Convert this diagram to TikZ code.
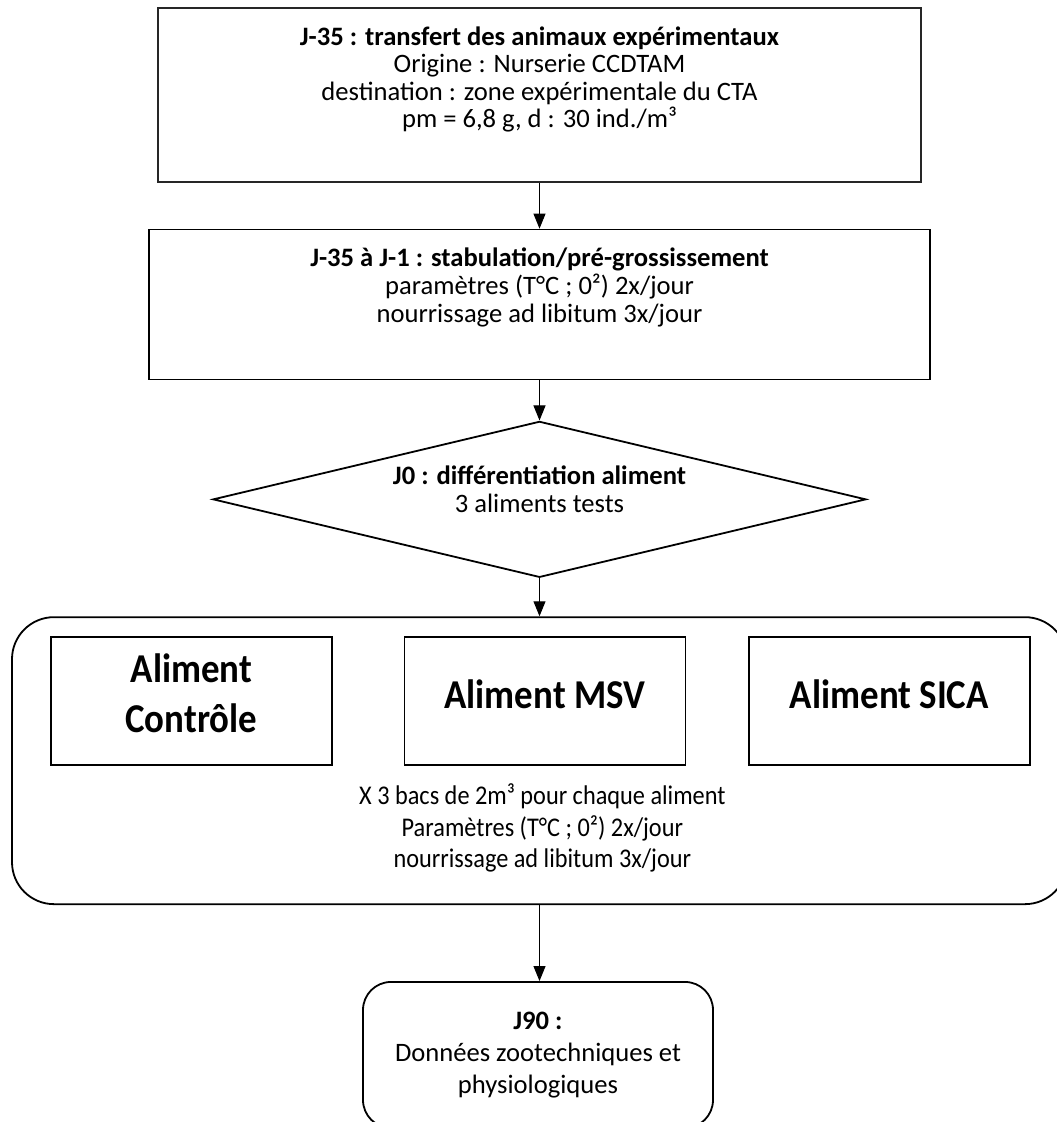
\documentclass[tikz,border=0pt]{standalone}
\usepackage{fontspec}
\setmainfont{Carlito}
\newfontfamily\narrowfont[FakeStretch=0.9]{Carlito}
\usetikzlibrary{positioning, shapes.geometric, arrows.meta}

\begin{document}
\begin{tikzpicture}[
    x=1pt, y=-1pt,
    >={Triangle[length=15pt, width=12pt]},
    font = \fontsize{26.6}{27.5}\selectfont,
    %% ── node styles ──────────────────────────────────────────
    Tbox/.style   = {draw=black!85, line width=1.3pt,
                     minimum width=763pt, minimum height=174pt},
    Sbox/.style   = {draw, line width=1.8pt,
                     minimum width=781pt, minimum height=150pt},
    Dbox/.style   = {draw, diamond, aspect=4.2, line width=1.8pt,
                     inner sep=0pt, minimum width=653pt, minimum height=156pt},
    Gbox/.style   = {draw, rounded corners=42pt, line width=1.8pt,
                     minimum width=1055pt, minimum height=287pt},
    Abox/.style   = {draw, line width=1.5pt,
                     minimum width=281pt, minimum height=128pt},
    Atxt/.style   = {align=center, inner sep=0pt,
                     font=\narrowfont\bfseries\fontsize{41}{50}\selectfont},
    Fbox/.style   = {draw, rounded corners=28pt, line width=1.8pt, align=center,
                     minimum width=350pt, minimum height=146pt,
                     font=\fontsize{26.6}{32}\selectfont},
    txt/.style    = {align=center, inner sep=0pt},
    arr/.style    = {->, line width=1pt}
]
\useasboundingbox (0,0) rectangle (1057,1122);

%% ── Transfert ────────────────────────────────────────────────
\node[Tbox] (transfert) at (539.5,95) {};
\node[txt, below=19pt of transfert.north] (transfertTxt)
    {\textbf{J-35 : transfert des animaux expérimentaux}\\
     Origine : Nurserie CCDTAM\\
     destination : zone expérimentale du CTA\\
     pm = 6,8 g, d : 30 ind./m³};

%% ── Stabulation ──────────────────────────────────────────────
\node[Sbox, below=46pt of transfert] (stab) {};
\node[txt, below=19pt of stab.north, font=\fontsize{26.6}{28}\selectfont] (stabTxt)
    {\textbf{J-35 à J-1 : stabulation/pré-grossissement}\\
     paramètres (T°C ; 0²) 2x/jour\\
     nourrissage ad libitum 3x/jour};

%% ── Différentiation ─────────────────────────────────────────
\node[Dbox, below=40pt of stab] (diff) {};
\node[txt, font=\fontsize{26.6}{27.5}\selectfont] (diffTxt)
    at ([yshift=10pt]diff.center)
    {\textbf{J0 : différentiation aliment}\\3 aliments tests};

%% ── Groupes d'aliments ───────────────────────────────────────
\node[Gbox, below=38pt of diff] (groupe) {};
\node[Abox, below right=20pt and 39pt of groupe.north west] (controle) {};
\node[Abox, right=71pt of controle] (msv)  {};
\node[Abox, right=62pt of msv]      (sica) {};
\node[Atxt] (controleTxt) at ([yshift=8pt]controle.center) {Aliment\\Contrôle};
\node[Atxt] (msvTxt)      at ([yshift=7pt]msv.center)      {Aliment MSV};
\node[Atxt] (sicaTxt)     at ([yshift=7pt]sica.center)     {Aliment SICA};
\node[txt, below=18pt of msv, xshift=-2.5pt,
      font=\narrowfont\fontsize{27}{31.5}\selectfont] (groupeTxt)
    {X 3 bacs de 2m³ pour chaque aliment\\
     Paramètres (T°C ; 0²) 2x/jour\\
     nourrissage ad libitum 3x/jour};

%% ── Résultats ────────────────────────────────────────────────
\node[Fbox, below=76pt of groupe, xshift=-1.5pt] (j90)
    {\textbf{J90 :}\\Données zootechniques et\\physiologiques};

%% ── Arrows ───────────────────────────────────────────────────
\draw[arr] (transfert) -- (stab);
\draw[arr] (stab)      -- (diff);
\draw[arr] (diff)      -- (groupe);
\draw[arr] (groupe)    -- (groupe.south |- j90.north);

\end{tikzpicture}
\end{document}
